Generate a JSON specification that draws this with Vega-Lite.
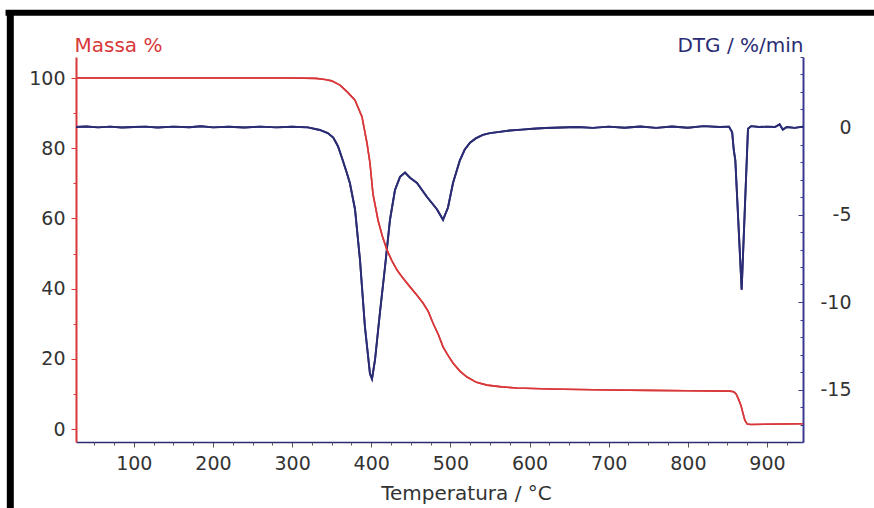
{
  "$schema": "https://vega.github.io/schema/vega-lite/v6.json",
  "width": 727,
  "height": 385,
  "autosize": {"type": "none"},
  "padding": {"left": 76, "top": 57, "right": 71, "bottom": 66},
  "background": "white",
  "config": {
    "view": {"stroke": null},
    "axis": {
      "grid": false,
      "labelFont": "DejaVu Sans",
      "labelFontSize": 19,
      "labelColor": "#333333",
      "titleFont": "DejaVu Sans",
      "titleFontSize": 20,
      "titleFontWeight": "normal",
      "tickColor": "#555555",
      "labelFlush": false,
      "labelOverlap": false
    }
  },
  "datasets": {
    "mass": [
      {"T": 27, "mass": 100}, {"T": 100, "mass": 100}, {"T": 200, "mass": 100},
      {"T": 300, "mass": 100}, {"T": 330, "mass": 99.9}, {"T": 341.6, "mass": 99.6},
      {"T": 350, "mass": 99.2}, {"T": 360.5, "mass": 98}, {"T": 370, "mass": 96},
      {"T": 379.5, "mass": 93.7}, {"T": 388.3, "mass": 89}, {"T": 394.6, "mass": 81.5},
      {"T": 398.4, "mass": 75.8}, {"T": 402.2, "mass": 67}, {"T": 408.6, "mass": 59.5},
      {"T": 414, "mass": 55}, {"T": 419.9, "mass": 51}, {"T": 426, "mass": 48},
      {"T": 432.6, "mass": 45.3}, {"T": 440, "mass": 43}, {"T": 449, "mass": 40.5},
      {"T": 457, "mass": 38.3}, {"T": 465.4, "mass": 35.9}, {"T": 472, "mass": 33.5},
      {"T": 478, "mass": 30.2}, {"T": 485, "mass": 26.8}, {"T": 490.7, "mass": 23.4},
      {"T": 497, "mass": 21}, {"T": 503.3, "mass": 18.8}, {"T": 512, "mass": 16.5},
      {"T": 521, "mass": 14.8}, {"T": 533, "mass": 13.3}, {"T": 546.3, "mass": 12.5},
      {"T": 565, "mass": 12}, {"T": 584, "mass": 11.7}, {"T": 626, "mass": 11.4},
      {"T": 700, "mass": 11.1}, {"T": 752, "mass": 11.0}, {"T": 800, "mass": 10.9},
      {"T": 853, "mass": 10.8}, {"T": 858, "mass": 10.6}, {"T": 861, "mass": 10.0},
      {"T": 864, "mass": 8.5}, {"T": 867, "mass": 6.8}, {"T": 872, "mass": 2.5},
      {"T": 875, "mass": 1.4}, {"T": 880, "mass": 1.3}, {"T": 945.5, "mass": 1.5}
    ],
    "dtg": [
      {"T": 27, "dtg": 0.0}, {"T": 40, "dtg": 0.03}, {"T": 55, "dtg": -0.02},
      {"T": 70, "dtg": 0.02}, {"T": 85, "dtg": -0.03}, {"T": 100, "dtg": 0.0},
      {"T": 115, "dtg": 0.02}, {"T": 130, "dtg": -0.03}, {"T": 150, "dtg": 0.02},
      {"T": 170, "dtg": -0.01}, {"T": 185, "dtg": 0.04}, {"T": 200, "dtg": -0.02},
      {"T": 220, "dtg": 0.01}, {"T": 240, "dtg": -0.03}, {"T": 260, "dtg": 0.02},
      {"T": 280, "dtg": -0.02}, {"T": 300, "dtg": 0.01}, {"T": 320, "dtg": -0.02},
      {"T": 335, "dtg": -0.17}, {"T": 345, "dtg": -0.35}, {"T": 352, "dtg": -0.6},
      {"T": 358, "dtg": -1.1}, {"T": 364, "dtg": -1.9}, {"T": 369, "dtg": -2.6},
      {"T": 373, "dtg": -3.2}, {"T": 379.5, "dtg": -4.7}, {"T": 385.8, "dtg": -7.6},
      {"T": 392, "dtg": -11.4}, {"T": 398.4, "dtg": -14.1}, {"T": 401, "dtg": -14.4},
      {"T": 404.8, "dtg": -13.3}, {"T": 411, "dtg": -10.6}, {"T": 417.4, "dtg": -8.0},
      {"T": 423.7, "dtg": -5.3}, {"T": 430, "dtg": -3.6}, {"T": 436.4, "dtg": -2.85},
      {"T": 442.7, "dtg": -2.6}, {"T": 449, "dtg": -2.9}, {"T": 452, "dtg": -3.0},
      {"T": 457.8, "dtg": -3.2}, {"T": 470.5, "dtg": -4.0}, {"T": 483, "dtg": -4.7},
      {"T": 490.7, "dtg": -5.3}, {"T": 497, "dtg": -4.6}, {"T": 503.3, "dtg": -3.2},
      {"T": 512, "dtg": -1.9}, {"T": 518, "dtg": -1.3}, {"T": 524.8, "dtg": -0.9},
      {"T": 532, "dtg": -0.65}, {"T": 541, "dtg": -0.45}, {"T": 550, "dtg": -0.35},
      {"T": 562, "dtg": -0.28}, {"T": 575, "dtg": -0.2}, {"T": 590, "dtg": -0.15},
      {"T": 604, "dtg": -0.1}, {"T": 620, "dtg": -0.06}, {"T": 640, "dtg": -0.03},
      {"T": 660, "dtg": 0.0}, {"T": 680, "dtg": -0.05}, {"T": 700, "dtg": 0.02},
      {"T": 720, "dtg": -0.04}, {"T": 740, "dtg": 0.03}, {"T": 760, "dtg": -0.05},
      {"T": 780, "dtg": 0.03}, {"T": 800, "dtg": -0.04}, {"T": 820, "dtg": 0.05},
      {"T": 840, "dtg": 0.0}, {"T": 852, "dtg": 0.02}, {"T": 856, "dtg": -0.3},
      {"T": 858, "dtg": -1.3}, {"T": 860, "dtg": -1.9}, {"T": 868, "dtg": -9.3},
      {"T": 876, "dtg": -0.1}, {"T": 880, "dtg": 0.05}, {"T": 890, "dtg": 0.0},
      {"T": 900, "dtg": 0.02}, {"T": 910, "dtg": 0.0}, {"T": 916, "dtg": 0.15},
      {"T": 920, "dtg": -0.15}, {"T": 925, "dtg": 0.0}, {"T": 935, "dtg": -0.05},
      {"T": 945.5, "dtg": 0.02}
    ],
    "frameV": [{"x": -56, "y": 118.6, "y2": -30}],
    "frameH": [{"x": -62, "x2": 1100, "y": 118.6}]
  },
  "layer": [
    {
      "data": {"name": "dtg"},
      "mark": {"type": "line", "color": "#2b2c74", "strokeWidth": 1.9},
      "encoding": {
        "x": {"field": "T", "type": "quantitative", "scale": {"domain": [27, 945.5], "nice": false, "zero": false}, "axis": null},
        "y": {"field": "dtg", "type": "quantitative", "scale": {"domain": [-18, 4], "nice": false, "zero": false},
          "axis": {"orient": "right", "values": [0, -5, -10, -15], "title": "DTG / %/min", "titleColor": "#2b2c74",
            "titleAngle": 0, "titleX": 0, "titleY": -6, "titleAlign": "right", "titleBaseline": "alphabetic",
            "domainColor": "#3a3a90", "domainWidth": 2, "tickColor": "#3a3a90", "tickSize": -5,
            "labelAlign": "right", "labelPadding": 53, "labelExpr": "toString(datum.value)"}}
      }
    },
    {
      "data": {"name": "dtg"},
      "mark": {"type": "line", "color": "#2b2c74", "strokeWidth": 1.9},
      "encoding": {
        "x": {"field": "T", "type": "quantitative", "scale": {"domain": [27, 945.5], "nice": false, "zero": false}, "axis": null},
        "y": {"field": "dtg", "type": "quantitative", "scale": {"domain": [-18, 4], "nice": false, "zero": false},
          "axis": {"orient": "right", "values": [-18, -17, -16, -14, -13, -12, -11, -9, -8, -7, -6, -4, -3, -2, -1, 1, 2, 3, 4],
            "labels": false, "domain": false, "title": null, "tickSize": -3, "tickColor": "#3a3a90"}}
      }
    },
    {
      "data": {"name": "mass"},
      "mark": {"type": "line", "color": "#d9383a", "strokeWidth": 1.6},
      "encoding": {
        "x": {"field": "T", "type": "quantitative", "scale": {"domain": [27, 945.5], "nice": false, "zero": false},
          "axis": {"orient": "bottom", "values": [100, 200, 300, 400, 500, 600, 700, 800, 900], "title": "Temperatura / °C",
            "titleColor": "#333333", "titleX": 390, "titleY": 57, "titleAlign": "center", "titleBaseline": "alphabetic",
            "domainColor": "#2b2c74", "domainWidth": 1.5, "tickSize": 5, "labelPadding": 7}},
        "y": {"field": "mass", "type": "quantitative", "scale": {"domain": [-3.7, 106], "nice": false, "zero": false},
          "axis": {"orient": "left", "values": [0, 20, 40, 60, 80, 100], "title": "Massa %", "titleColor": "#d9383a",
            "titleAngle": 0, "titleX": -2, "titleY": -6, "titleAlign": "left", "titleBaseline": "alphabetic",
            "domainColor": "#d9383a", "domainWidth": 2, "tickColor": "#d9383a", "tickSize": 5, "labelPadding": 6}}
      }
    },
    {
      "data": {"name": "mass"},
      "mark": {"type": "line", "color": "#d9383a", "strokeWidth": 1.6},
      "encoding": {
        "x": {"field": "T", "type": "quantitative", "scale": {"domain": [27, 945.5], "nice": false, "zero": false},
          "axis": {"orient": "bottom", "values": [50, 75, 125, 150, 175, 225, 250, 275, 325, 350, 375, 425, 450, 475, 525, 550, 575, 625, 650, 675, 725, 750, 775, 825, 850, 875, 925],
            "labels": false, "domain": false, "title": null, "tickSize": 3}},
        "y": {"field": "mass", "type": "quantitative", "scale": {"domain": [-3.7, 106], "nice": false, "zero": false},
          "axis": {"orient": "left", "values": [10, 30, 50, 70, 90], "labels": false, "domain": false, "title": null,
            "tickSize": 3, "tickColor": "#d9383a"}}
      }
    },
    {
      "data": {"name": "frameV"},
      "mark": {"type": "rule", "color": "black", "strokeWidth": 7},
      "encoding": {
        "x": {"field": "x", "type": "quantitative", "scale": {"domain": [27, 945.5], "nice": false, "zero": false}, "axis": null},
        "y": {"field": "y", "type": "quantitative", "scale": {"domain": [-3.7, 106], "nice": false, "zero": false}, "axis": null},
        "y2": {"field": "y2"}
      }
    },
    {
      "data": {"name": "frameH"},
      "mark": {"type": "rule", "color": "black", "strokeWidth": 6},
      "encoding": {
        "x": {"field": "x", "type": "quantitative", "scale": {"domain": [27, 945.5], "nice": false, "zero": false}, "axis": null},
        "x2": {"field": "x2"},
        "y": {"field": "y", "type": "quantitative", "scale": {"domain": [-3.7, 106], "nice": false, "zero": false}, "axis": null}
      }
    }
  ],
  "resolve": {"scale": {"x": "independent", "y": "independent"}, "axis": {"x": "independent", "y": "independent"}}
}
